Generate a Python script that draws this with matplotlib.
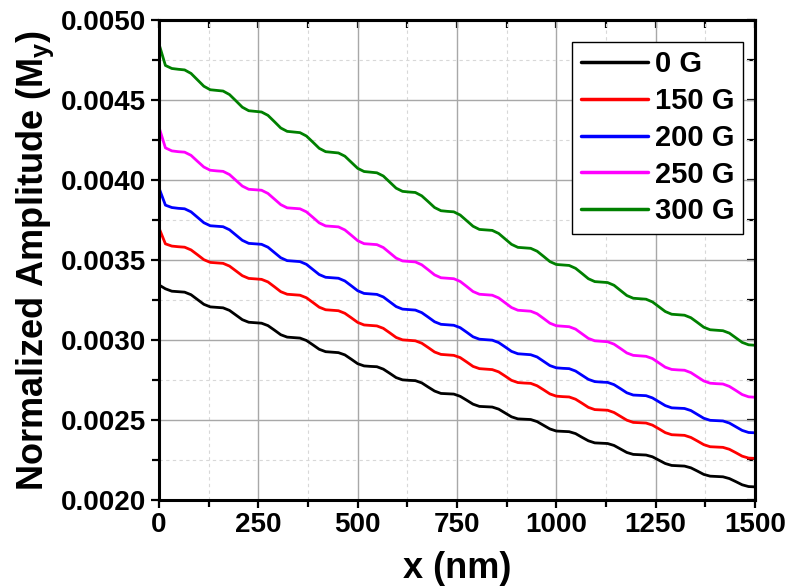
import numpy as np
import matplotlib
matplotlib.use('Agg')
import matplotlib.pyplot as plt
from matplotlib.ticker import MultipleLocator, FormatStrFormatter, NullFormatter

# position along the waveguide, sampled every ~16 nm (6 samples per ripple)
x_nm = np.linspace(0, 1500, 94)

# normalized amplitude My (units of 1e-3)
amp_0G = [3.344, 3.320, 3.305,
          3.302, 3.299, 3.283, 3.253, 3.223, 3.207,
          3.204, 3.201, 3.185, 3.156, 3.127, 3.111,
          3.108, 3.105, 3.090, 3.062, 3.033, 3.018,
          3.015, 3.012, 2.997, 2.970, 2.942, 2.927,
          2.924, 2.921, 2.907, 2.880, 2.852, 2.838,
          2.835, 2.833, 2.818, 2.792, 2.765, 2.751,
          2.748, 2.746, 2.732, 2.706, 2.681, 2.666,
          2.664, 2.662, 2.648, 2.624, 2.599, 2.585,
          2.583, 2.581, 2.568, 2.544, 2.520, 2.507,
          2.505, 2.503, 2.490, 2.467, 2.444, 2.431,
          2.429, 2.427, 2.415, 2.392, 2.370, 2.357,
          2.355, 2.353, 2.341, 2.319, 2.297, 2.285,
          2.283, 2.281, 2.270, 2.249, 2.228, 2.216,
          2.214, 2.212, 2.201, 2.181, 2.160, 2.149,
          2.147, 2.145, 2.134, 2.115, 2.095, 2.084,
          2.082]
amp_150G = [3.700, 3.601, 3.587,
            3.583, 3.580, 3.563, 3.533, 3.502, 3.485,
            3.482, 3.479, 3.462, 3.432, 3.402, 3.385,
            3.382, 3.379, 3.363, 3.333, 3.302, 3.286,
            3.283, 3.280, 3.264, 3.235, 3.205, 3.189,
            3.186, 3.183, 3.167, 3.139, 3.110, 3.094,
            3.091, 3.088, 3.073, 3.045, 3.016, 3.001,
            2.998, 2.995, 2.980, 2.953, 2.925, 2.910,
            2.907, 2.904, 2.890, 2.863, 2.835, 2.821,
            2.818, 2.815, 2.801, 2.775, 2.748, 2.734,
            2.731, 2.729, 2.714, 2.689, 2.663, 2.649,
            2.646, 2.644, 2.630, 2.605, 2.579, 2.565,
            2.563, 2.561, 2.547, 2.523, 2.499, 2.485,
            2.483, 2.481, 2.468, 2.445, 2.421, 2.408,
            2.406, 2.404, 2.391, 2.369, 2.346, 2.333,
            2.331, 2.329, 2.317, 2.296, 2.274, 2.262,
            2.260]
amp_200G = [3.950, 3.843, 3.828,
            3.823, 3.820, 3.801, 3.767, 3.733, 3.714,
            3.711, 3.708, 3.689, 3.656, 3.623, 3.604,
            3.601, 3.598, 3.580, 3.547, 3.514, 3.496,
            3.493, 3.490, 3.473, 3.441, 3.409, 3.392,
            3.389, 3.386, 3.369, 3.339, 3.308, 3.291,
            3.288, 3.285, 3.269, 3.239, 3.209, 3.193,
            3.190, 3.187, 3.171, 3.143, 3.114, 3.098,
            3.095, 3.092, 3.077, 3.049, 3.020, 3.005,
            3.002, 2.999, 2.984, 2.957, 2.929, 2.914,
            2.911, 2.908, 2.894, 2.867, 2.840, 2.826,
            2.823, 2.821, 2.806, 2.780, 2.754, 2.740,
            2.737, 2.735, 2.721, 2.696, 2.670, 2.656,
            2.654, 2.652, 2.638, 2.614, 2.590, 2.576,
            2.574, 2.572, 2.559, 2.535, 2.511, 2.498,
            2.496, 2.494, 2.481, 2.458, 2.435, 2.422,
            2.420]
amp_250G = [4.330, 4.201, 4.182,
            4.177, 4.174, 4.154, 4.117, 4.081, 4.061,
            4.057, 4.054, 4.034, 3.998, 3.962, 3.942,
            3.939, 3.936, 3.916, 3.881, 3.846, 3.826,
            3.823, 3.820, 3.801, 3.767, 3.732, 3.713,
            3.710, 3.707, 3.688, 3.655, 3.621, 3.602,
            3.599, 3.596, 3.578, 3.545, 3.512, 3.494,
            3.491, 3.488, 3.470, 3.439, 3.407, 3.389,
            3.386, 3.383, 3.366, 3.335, 3.303, 3.286,
            3.283, 3.280, 3.263, 3.233, 3.203, 3.186,
            3.183, 3.180, 3.164, 3.135, 3.105, 3.089,
            3.086, 3.083, 3.068, 3.039, 3.010, 2.995,
            2.992, 2.989, 2.974, 2.947, 2.919, 2.904,
            2.901, 2.898, 2.884, 2.857, 2.830, 2.816,
            2.813, 2.811, 2.796, 2.770, 2.744, 2.730,
            2.727, 2.725, 2.710, 2.685, 2.659, 2.645,
            2.642]
amp_300G = [4.850, 4.716, 4.697,
            4.692, 4.688, 4.666, 4.626, 4.586, 4.564,
            4.560, 4.556, 4.534, 4.495, 4.455, 4.433,
            4.429, 4.425, 4.404, 4.365, 4.325, 4.304,
            4.300, 4.296, 4.275, 4.237, 4.198, 4.177,
            4.173, 4.169, 4.149, 4.111, 4.073, 4.053,
            4.049, 4.045, 4.025, 3.987, 3.949, 3.929,
            3.925, 3.922, 3.901, 3.865, 3.828, 3.808,
            3.804, 3.801, 3.781, 3.746, 3.711, 3.691,
            3.688, 3.685, 3.666, 3.632, 3.598, 3.579,
            3.576, 3.573, 3.555, 3.523, 3.490, 3.472,
            3.469, 3.466, 3.448, 3.416, 3.383, 3.365,
            3.362, 3.359, 3.342, 3.310, 3.278, 3.261,
            3.258, 3.255, 3.238, 3.208, 3.178, 3.161,
            3.158, 3.155, 3.139, 3.110, 3.080, 3.064,
            3.061, 3.058, 3.043, 3.014, 2.985, 2.970,
            2.967]

labels = ['0 G', '150 G', '200 G', '250 G', '300 G']
colors = ['black', 'red', 'blue', 'magenta', 'green']
series = [amp_0G, amp_150G, amp_200G, amp_250G, amp_300G]

plt.rcParams['font.family'] = ['Liberation Sans', 'DejaVu Sans']
plt.rcParams['font.weight'] = 'bold'
plt.rcParams['axes.labelweight'] = 'bold'
plt.rcParams['mathtext.fontset'] = 'custom'
plt.rcParams['mathtext.rm'] = 'Liberation Sans:bold'
plt.rcParams['mathtext.bf'] = 'Liberation Sans:bold'
plt.rcParams['mathtext.it'] = 'Liberation Sans:bold'

fig = plt.figure(figsize=(7.89, 5.88), dpi=100)
ax = fig.add_axes([159/789, 88/588, 596/789, 480/588])

for vals, c, lab in zip(series, colors, labels):
    ax.plot(x_nm, np.array(vals) * 1e-3, color=c, lw=2.0, label=lab,
            solid_joinstyle='round', solid_capstyle='round')

ax.set_xlim(0, 1500)
ax.set_ylim(0.002, 0.005)
ax.xaxis.set_major_locator(MultipleLocator(250))
ax.xaxis.set_minor_locator(MultipleLocator(125))
ax.yaxis.set_major_locator(MultipleLocator(0.0005))
ax.yaxis.set_minor_locator(MultipleLocator(0.00025))
ax.yaxis.set_major_formatter(FormatStrFormatter('%.4f'))

ax.grid(which='major', color='#a8a8a8', lw=1.0)
ax.grid(which='minor', color='#d8d8d8', lw=0.8, ls=(0, (3, 3)))
ax.set_axisbelow(True)

ax.tick_params(which='both', direction='out', width=1.6, labelsize=20, pad=3)
ax.tick_params(which='major', length=6)
ax.tick_params(which='minor', length=5)
for s in ax.spines.values():
    s.set_linewidth(2.2)

# mirrored ticks on top/right point inward
secx = ax.secondary_xaxis('top')
secx.xaxis.set_major_locator(MultipleLocator(250))
secx.xaxis.set_minor_locator(MultipleLocator(125))
secx.xaxis.set_major_formatter(NullFormatter())
secx.tick_params(which='both', direction='in', width=1.6, length=6)
secx.spines['top'].set_linewidth(2.2)
secy = ax.secondary_yaxis('right')
secy.yaxis.set_major_locator(MultipleLocator(0.0005))
secy.yaxis.set_minor_locator(MultipleLocator(0.00025))
secy.yaxis.set_major_formatter(NullFormatter())
secy.tick_params(which='both', direction='in', width=1.6, length=6)
secy.spines['right'].set_linewidth(2.2)

ax.set_xlabel('x (nm)', fontsize=26, fontweight='bold', labelpad=9)
ax.set_ylabel('Normalized Amplitude (M$_\\mathbf{y}$)', fontsize=26,
              fontweight='bold', labelpad=4)

leg = ax.legend(loc='upper right', bbox_to_anchor=(0.98, 0.955), borderaxespad=0,
                fontsize=21, handlelength=2.3, handletextpad=0.23, labelspacing=0.3,
                borderpad=0.3, fancybox=False, framealpha=1, edgecolor='black')
leg.get_frame().set_linewidth(1.0)
for line in leg.get_lines():
    line.set_linewidth(2.5)

fig.savefig('out.png', dpi=100)
